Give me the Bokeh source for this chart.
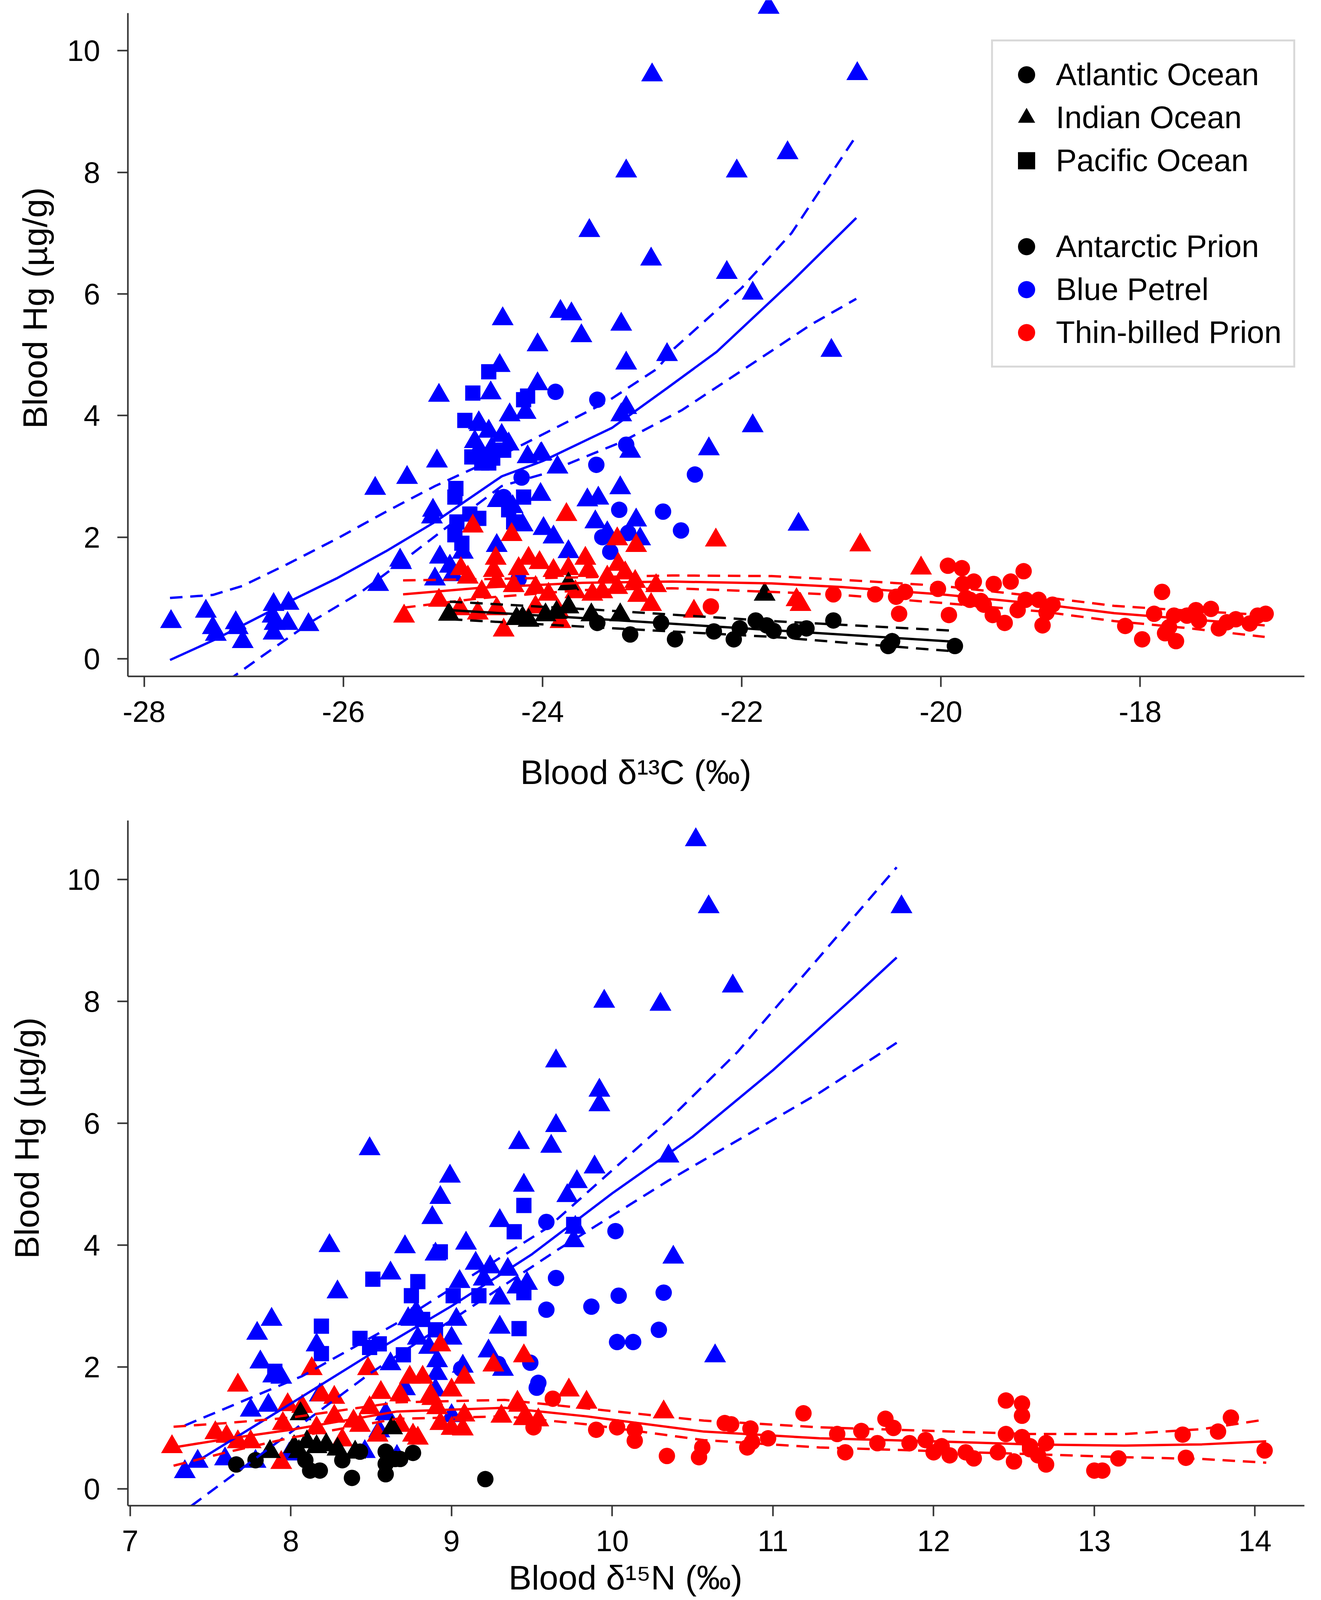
from bokeh.plotting import figure
from bokeh.models import Range1d, FixedTicker, Legend, LegendItem, Title
from bokeh.layouts import column
from bokeh.embed import file_html
from bokeh.resources import INLINE

# ------------------------------------------------------------------ ticks
c13_ticks = [-28, -26, -24, -22, -20, -18]
n15_ticks = [7, 8, 9, 10, 11, 12, 13, 14]
hg_ticks = [0, 2, 4, 6, 8, 10]

# ------------------------------------------------------------------ panel A : blood d13C vs Hg
# Blue Petrel, Indian Ocean (triangles)
c13_bp_ind_x = [-27.73, -27.38, -27.31, -27.28, -27.08, -27.06, -27.01, -26.70, -26.71, -26.69,
                -26.70, -26.56, -26.55, -26.35, -25.65, -25.68, -25.36, -25.42, -25.04, -25.06,
                -25.10, -25.11, -25.03, -25.08, -24.63, -24.68, -24.52, -24.43, -24.40, -23.82,
                -23.71, -23.61, -23.53, -23.21, -24.05, -23.16, -22.75, -21.10, -24.05, -24.17,
                -24.33, -23.21, -23.16, -21.89, -22.33, -23.12, -23.85, -24.01, -23.22, -23.44,
                -23.55, -21.43, -21.73, -22.90, -20.84, -21.54, -23.16, -22.05, -22.91, -22.15,
                -21.89, -24.54, -24.41, -24.64, -24.51, -24.34, -24.02, -24.15, -24.64, -24.02,
                -23.06, -23.47, -23.35, -23.99, -23.89, -24.46, -23.74, -23.02, -25.43, -24.93,
                -24.45, -24.30, -24.20, -24.80, -24.90]
c13_bp_ind_y = [0.61, 0.78, 0.51, 0.40, 0.59, 0.51, 0.28, 0.89, 0.70, 0.58,
                0.42, 0.58, 0.91, 0.56, 1.22, 2.80, 2.98, 1.58, 4.33, 3.25,
                2.44, 2.33, 1.67, 1.31, 3.85, 3.57, 4.37, 4.82, 5.59, 5.71,
                5.67, 5.31, 7.04, 5.50, 5.16, 4.86, 5.00, 5.07, 4.52, 4.05,
                4.01, 4.01, 4.13, 3.83, 3.45, 3.41, 3.15, 3.37, 2.81, 2.64,
                2.61, 2.21, 10.71, 9.60, 9.62, 8.32, 8.02, 8.02, 6.57, 6.35,
                6.01, 3.74, 3.67, 3.43, 3.46, 3.53, 3.36, 3.32, 3.88, 2.70,
                2.28, 2.25, 2.07, 2.14, 2.00, 1.86, 1.76, 1.97, 1.62, 1.52,
                2.60, 2.50, 2.20, 1.75, 1.38]
# Blue Petrel, Pacific Ocean (squares)
c13_bp_pac_x = [-24.54, -24.70, -24.78, -24.19, -24.15, -24.71, -24.61, -24.54, -24.39, -24.87,
                -24.88, -24.19, -24.34, -24.86, -24.88, -24.81, -24.64, -24.29, -24.73, -24.60, -24.50]
c13_bp_pac_y = [4.72, 4.37, 3.92, 4.26, 4.32, 3.32, 3.22, 3.22, 3.43, 2.80,
                2.66, 2.66, 2.45, 2.25, 2.04, 1.90, 2.31, 2.25, 2.38, 3.35, 3.30]
# Blue Petrel, Atlantic Ocean (circles)
c13_bp_atl_x = [-23.87, -23.45, -23.16, -23.46, -24.21, -22.47, -24.39, -23.23, -22.79, -22.61,
                -23.40, -23.14, -23.32, -24.24]
c13_bp_atl_y = [4.39, 4.26, 3.52, 3.19, 2.98, 3.03, 2.66, 2.45, 2.42, 2.11,
                2.00, 2.07, 1.76, 1.31]
# Thin-billed Prion, Indian Ocean (triangles)
c13_tbp_ind_x = [-23.76, -24.70, -24.31, -22.26, -23.25, -23.06, -24.47, -24.14, -24.03, -23.57,
                 -23.24, -23.17, -24.82, -24.75, -24.49, -24.24, -23.89, -23.74, -23.54, -23.35,
                 -23.07, -22.86, -24.61, -24.46, -24.29, -24.07, -23.94, -23.67, -23.50, -23.40,
                 -23.25, -23.04, -22.91, -25.04, -24.83, -24.46, -24.07, -23.84, -23.82, -24.39,
                 -22.48, -25.39, -24.65, -20.81, -20.20, -21.45, -21.41]
c13_tbp_ind_y = [2.37, 2.18, 2.04, 1.95, 1.97, 1.86, 1.65, 1.65, 1.58, 1.65,
                 1.55, 1.41, 1.48, 1.34, 1.45, 1.48, 1.45, 1.48, 1.45, 1.34,
                 1.27, 1.20, 1.10, 1.27, 1.20, 1.17, 1.06, 1.10, 1.06, 1.10,
                 1.17, 1.04, 0.89, 0.96, 0.82, 0.82, 0.85, 0.78, 0.61, 0.47,
                 0.78, 0.70, 0.75, 1.87, 1.49, 0.97, 0.89]
# Thin-billed Prion, Atlantic Ocean (circles)
c13_tbp_atl_x = [-22.31, -21.08, -20.66, -20.45, -20.36, -20.42, -20.03, -19.93, -19.79, -19.78,
                 -19.67, -19.47, -19.30, -19.17, -19.92, -19.71, -19.57, -19.48, -19.36, -19.23,
                 -19.15, -19.02, -18.88, -18.94, -18.98, -18.15, -17.98, -17.86, -17.78, -17.75,
                 -17.64, -17.66, -17.71, -17.53, -17.44, -17.41, -17.29, -17.21, -17.13, -17.04,
                 -16.90, -16.82, -16.74, -19.60, -19.75]
c13_tbp_atl_y = [0.86, 1.06, 1.06, 1.02, 1.10, 0.74, 1.15, 1.53, 1.49, 1.23,
                 1.27, 1.23, 1.27, 1.44, 0.72, 0.97, 0.89, 0.72, 0.59, 0.80,
                 0.97, 0.97, 0.89, 0.76, 0.55, 0.54, 0.32, 0.74, 1.10, 0.42,
                 0.29, 0.71, 0.52, 0.71, 0.80, 0.63, 0.82, 0.50, 0.60, 0.65,
                 0.58, 0.71, 0.74, 0.95, 1.00]
# Antarctic Prion, Indian Ocean (triangles)
c13_ap_ind_x = [-24.94, -24.20, -24.14, -23.97, -23.86, -23.74, -23.74, -23.51, -23.22, -21.77, -24.26]
c13_ap_ind_y = [0.73, 0.67, 0.63, 0.72, 0.76, 1.23, 0.85, 0.72, 0.72, 1.06, 0.66]
# Antarctic Prion, Atlantic Ocean (circles)
c13_ap_atl_x = [-23.45, -23.12, -22.81, -22.67, -22.28, -22.08, -22.02, -21.86, -21.75, -21.68,
                -21.47, -21.35, -21.08, -20.53, -20.49, -19.86]
c13_ap_atl_y = [0.59, 0.40, 0.59, 0.32, 0.45, 0.32, 0.50, 0.63, 0.55, 0.46,
                0.45, 0.50, 0.63, 0.21, 0.29, 0.21]

# fitted curves (panel A)
c13_bp_fit_x = [-27.74, -27.31, -26.57, -26.07, -25.57, -25.08, -24.41, -24.0, -23.3, -22.75, -22.25, -21.5, -20.85]
c13_bp_fit_y = [-0.02, 0.30, 0.92, 1.32, 1.77, 2.25, 3.0, 3.25, 3.8, 4.45, 5.05, 6.2, 7.25]
c13_bp_hi_x = [-27.74, -27.31, -27.01, -26.57, -26.07, -25.57, -25.08, -24.6, -24.19, -23.35, -22.85, -22.68, -22.0, -21.5, -20.85]
c13_bp_hi_y = [1.0, 1.05, 1.2, 1.55, 1.97, 2.42, 2.84, 3.2, 3.53, 4.23, 4.77, 5.1, 6.1, 7.0, 8.6]
c13_bp_lo_x = [-27.16, -26.81, -26.32, -25.82, -25.33, -24.98, -24.41, -23.99, -23.2, -22.6, -21.86, -21.3, -20.85]
c13_bp_lo_y = [-0.36, 0.05, 0.61, 1.1, 1.7, 2.14, 2.84, 3.04, 3.57, 4.09, 4.89, 5.5, 5.92]

c13_tbp_fit_x = [-25.4, -24.6, -23.6, -22.7, -21.7, -21.0, -20.0, -19.0, -18.26, -17.5, -16.75]
c13_tbp_fit_y = [1.06, 1.17, 1.25, 1.27, 1.24, 1.18, 1.06, 0.90, 0.75, 0.65, 0.55]
c13_tbp_hi_y = [1.29, 1.31, 1.34, 1.37, 1.36, 1.30, 1.20, 1.02, 0.87, 0.79, 0.72]
c13_tbp_lo_y = [0.84, 1.00, 1.13, 1.16, 1.10, 1.05, 0.92, 0.78, 0.62, 0.50, 0.36]

c13_ap_fit_x = [-24.93, -23.5, -21.69, -19.85]
c13_ap_fit_y = [0.80, 0.66, 0.47, 0.28]
c13_ap_hi_y = [0.94, 0.81, 0.62, 0.46]
c13_ap_lo_y = [0.65, 0.52, 0.36, 0.12]

# ------------------------------------------------------------------ panel B : blood d15N vs Hg
n15_bp_ind_x = [8.49, 9.42, 8.99, 8.93, 9.45, 8.88, 9.30, 8.24, 8.71, 9.09,
                8.62, 8.29, 8.90, 9.15, 9.24, 9.35, 9.05, 9.47, 9.30, 7.88,
                7.79, 8.16, 8.78, 8.75, 9.03, 9.30, 8.79, 8.86, 9.00, 7.81,
                7.89, 7.94, 8.91, 8.91, 8.62, 9.23, 9.07, 8.18, 7.75, 7.86,
                7.34, 7.42, 7.59, 7.78, 7.99, 8.46, 8.66, 8.59, 8.71, 9.65,
                9.92, 9.92, 9.65, 9.62, 9.89, 9.78, 9.72, 10.35, 9.77, 9.76,
                10.38, 9.20, 9.41, 8.73, 10.64, 9.32, 8.90, 10.52, 10.60, 11.80,
                10.75, 9.95, 10.30, 8.55, 9.00]
n15_bp_ind_y = [5.58, 5.68, 5.13, 4.78, 4.98, 4.45, 4.40, 3.99, 3.97, 4.03,
                3.54, 3.23, 3.85, 3.70, 3.64, 3.60, 3.40, 3.37, 3.13, 2.78,
                2.55, 2.36, 2.90, 2.78, 2.78, 2.65, 2.47, 2.32, 2.47, 2.08,
                1.85, 1.83, 2.10, 1.89, 2.05, 2.26, 2.01, 1.54, 1.29, 1.37,
                0.28, 0.45, 0.49, 0.45, 0.57, 0.61, 0.53, 1.23, 1.64, 7.02,
                6.54, 6.30, 5.96, 5.62, 5.28, 5.04, 4.81, 5.46, 4.29, 4.07,
                3.80, 3.44, 3.31, 2.79, 2.18, 1.96, 1.62, 10.65, 9.55, 9.55,
                8.25, 8.00, 7.95, 0.95, 1.20]
n15_bp_pac_x = [9.45, 9.39, 8.93, 8.51, 8.79, 8.75, 9.01, 9.17, 8.19, 9.42,
                8.43, 8.49, 8.55, 8.19, 7.90, 8.70, 8.90, 8.82, 9.76, 9.45]
n15_bp_pac_y = [4.65, 4.22, 3.89, 3.44, 3.40, 3.17, 3.17, 3.17, 2.67, 2.63,
                2.47, 2.32, 2.38, 2.22, 1.93, 2.20, 2.61, 2.78, 4.34, 3.22]
n15_bp_atl_x = [9.59, 9.59, 9.49, 9.54, 9.06, 9.29, 10.02, 9.65, 9.87, 10.04,
                10.32, 10.29, 10.03, 10.13, 9.53]
n15_bp_atl_y = [4.38, 2.94, 2.07, 1.74, 1.97, 2.05, 4.23, 3.46, 2.99, 3.17,
                3.22, 2.61, 2.41, 2.41, 1.66]
n15_tbp_ind_x = [7.67, 8.13, 8.93, 9.45, 9.26, 8.48, 8.74, 8.82, 9.08, 8.56,
                 8.68, 8.87, 9.00, 8.19, 8.27, 7.98, 8.07, 8.49, 9.41, 9.31,
                 9.08, 8.93, 9.00, 9.07, 9.46, 9.54, 7.95, 8.27, 8.39, 8.43,
                 8.68, 8.16, 7.53, 7.60, 7.26, 7.67, 7.75, 8.54, 8.76, 7.94,
                 8.32, 9.73, 9.84, 10.32, 9.42, 8.88, 8.91, 9.45, 8.79]
n15_tbp_ind_y = [1.70, 1.97, 2.36, 2.18, 2.03, 1.97, 1.83, 1.83, 1.83, 1.58,
                 1.54, 1.54, 1.62, 1.54, 1.50, 1.38, 1.35, 1.33, 1.42, 1.19,
                 1.21, 1.07, 0.99, 0.98, 1.19, 1.13, 1.07, 1.19, 1.11, 1.04,
                 1.04, 1.00, 0.92, 0.86, 0.69, 0.77, 0.77, 0.88, 0.88, 0.43,
                 0.80, 1.62, 1.42, 1.26, 1.37, 1.48, 1.33, 1.15, 0.83]
n15_tbp_atl_x = [9.63, 9.51, 9.90, 10.03, 10.14, 10.14, 10.34, 10.54, 10.56, 10.70,
                 10.74, 10.86, 10.87, 10.84, 10.97, 11.19, 11.40, 11.45, 11.55, 11.65,
                 11.70, 11.75, 11.85, 11.95, 12.05, 12.10, 12.20, 12.25, 12.40, 12.45,
                 12.55, 12.55, 12.55, 12.45, 12.60, 12.65, 12.70, 12.50, 12.70, 13.00,
                 13.05, 13.15, 13.55, 13.57, 13.77, 13.85, 14.06, 12.00, 12.60]
n15_tbp_atl_y = [1.48, 1.01, 0.97, 1.01, 0.97, 0.79, 0.54, 0.52, 0.68, 1.08,
                 1.06, 0.99, 0.77, 0.68, 0.83, 1.24, 0.90, 0.60, 0.95, 0.75,
                 1.15, 1.00, 0.75, 0.80, 0.70, 0.55, 0.60, 0.50, 0.60, 1.45,
                 1.40, 1.20, 0.85, 0.90, 0.70, 0.55, 0.75, 0.45, 0.40, 0.30,
                 0.30, 0.50, 0.89, 0.51, 0.94, 1.17, 0.63, 0.60, 0.65]
n15_ap_ind_x = [8.06, 8.63, 7.87, 8.02, 8.10, 8.16, 8.29, 8.05, 8.22, 8.40]
n15_ap_ind_y = [1.23, 1.00, 0.61, 0.69, 0.77, 0.69, 0.65, 0.61, 0.72, 0.60]
n15_ap_atl_x = [7.66, 7.78, 8.09, 8.12, 8.18, 8.32, 8.43, 8.38, 8.59, 8.59,
                8.65, 8.68, 8.59, 8.76, 9.21]
n15_ap_atl_y = [0.40, 0.47, 0.47, 0.30, 0.30, 0.47, 0.61, 0.18, 0.61, 0.24,
                0.49, 0.49, 0.41, 0.59, 0.16]

# fitted curves (panel B)
n15_bp_fit_x = [7.36, 8.0, 8.5, 9.0, 9.5, 10.0, 10.5, 11.0, 11.5, 11.77]
n15_bp_fit_y = [0.36, 1.40, 2.22, 3.0, 3.85, 4.85, 5.78, 6.87, 8.06, 8.72]
n15_bp_hi_x = [7.34, 8.07, 8.66, 9.6, 10.35, 10.78, 11.77]
n15_bp_hi_y = [1.04, 1.85, 2.72, 4.29, 6.05, 7.17, 10.2]
n15_bp_lo_x = [7.38, 8.0, 8.49, 9.0, 9.67, 10.35, 11.29, 11.77]
n15_bp_lo_y = [-0.28, 0.93, 1.89, 2.77, 3.94, 5.06, 6.5, 7.32]

n15_tbp_fit_x = [7.27, 7.6, 8.0, 8.66, 9.33, 9.84, 10.57, 11.29, 12.0, 12.6, 13.19, 13.67, 14.07]
n15_tbp_fit_y = [0.68, 0.82, 0.97, 1.27, 1.33, 1.19, 0.94, 0.83, 0.78, 0.73, 0.71, 0.73, 0.78]
n15_tbp_hi_y = [1.02, 1.08, 1.17, 1.42, 1.46, 1.32, 1.12, 1.01, 0.95, 0.90, 0.90, 0.98, 1.14]
n15_tbp_lo_y = [0.38, 0.60, 0.84, 1.15, 1.19, 1.06, 0.80, 0.68, 0.62, 0.57, 0.52, 0.49, 0.43]

# ------------------------------------------------------------------ styling
FONT = "Liberation Sans"
BLUE, RED, BLACK = "#0000FF", "#FF0000", "#000000"
AXIS = "#333333"
SIZES = {"triangle": 56, "circle": 42, "square": 39}
DASH = "32 20"
LW = 6
SPACER = "\u00a0"   # invisible axis label used only to reserve room before the title


def make_fig(width, height, xr, yr, borders, xticks, ybounds=None):
    left, right, top, bottom = borders
    p = figure(width=width, height=height,
               x_range=Range1d(*xr), y_range=Range1d(*yr),
               output_backend="svg", toolbar_location=None,
               min_border_left=left, min_border_right=right,
               min_border_top=top, min_border_bottom=bottom)
    p.grid.visible = False
    p.outline_line_color = None
    p.background_fill_color = "white"
    p.border_fill_color = "white"
    p.xaxis.ticker = FixedTicker(ticks=xticks)
    p.yaxis.ticker = FixedTicker(ticks=hg_ticks)
    p.xaxis.major_label_overrides = {t: str(t) for t in xticks}
    p.yaxis.major_label_overrides = {t: str(t) for t in hg_ticks}
    if ybounds is not None:
        p.yaxis.bounds = ybounds
    for ax in (p.xaxis, p.yaxis):
        ax.axis_line_color = AXIS
        ax.axis_line_width = 4
        ax.major_tick_line_color = AXIS
        ax.major_tick_line_width = 4
        ax.major_tick_out = 27
        ax.major_tick_in = 0
        ax.minor_tick_line_color = None
        ax.major_label_text_font = FONT
        ax.major_label_text_font_size = "76px"
        ax.major_label_text_color = "black"
    p.xaxis.major_label_standoff = 36
    p.yaxis.major_label_standoff = 44
    return p


def spacer(axis, room):
    axis.axis_label = SPACER
    axis.axis_label_text_font_size = "2px"
    axis.axis_label_standoff = room


def pts(p, x, y, marker, color):
    return p.scatter(x, y, marker=marker, size=SIZES[marker],
                     fill_color=color, line_color=None)


def curve(p, x, y, color, dashed=False):
    if dashed:
        p.line(x, y, line_color=color, line_width=LW, line_dash=DASH)
    else:
        p.line(x, y, line_color=color, line_width=LW)


def title(p, text, side, offset, standoff):
    p.add_layout(Title(text=text, align="left", offset=offset, standoff=standoff,
                       text_font=FONT, text_font_size="88px", text_font_style="normal",
                       text_color="black"), side)


# ------------------------------------------------------------------ panel A
pA = make_fig(3367, 2095, (-28.163, -16.351), (-0.289, 10.83),
              (327, 2, 0, 364), c13_ticks, ybounds=(-0.289, 10.62))
spacer(pA.xaxis[0], 19)

a_bp_ind = pts(pA, c13_bp_ind_x, c13_bp_ind_y, "triangle", BLUE)
a_bp_pac = pts(pA, c13_bp_pac_x, c13_bp_pac_y, "square", BLUE)
a_bp_atl = pts(pA, c13_bp_atl_x, c13_bp_atl_y, "circle", BLUE)
a_tbp_ind = pts(pA, c13_tbp_ind_x, c13_tbp_ind_y, "triangle", RED)
a_tbp_atl = pts(pA, c13_tbp_atl_x, c13_tbp_atl_y, "circle", RED)
a_ap_ind = pts(pA, c13_ap_ind_x, c13_ap_ind_y, "triangle", BLACK)
a_ap_atl = pts(pA, c13_ap_atl_x, c13_ap_atl_y, "circle", BLACK)

curve(pA, c13_bp_fit_x, c13_bp_fit_y, BLUE)
curve(pA, c13_bp_hi_x, c13_bp_hi_y, BLUE, True)
curve(pA, c13_bp_lo_x, c13_bp_lo_y, BLUE, True)
curve(pA, c13_tbp_fit_x, c13_tbp_fit_y, RED)
curve(pA, c13_tbp_fit_x, c13_tbp_hi_y, RED, True)
curve(pA, c13_tbp_fit_x, c13_tbp_lo_y, RED, True)
curve(pA, c13_ap_fit_x, c13_ap_fit_y, BLACK)
curve(pA, c13_ap_fit_x, c13_ap_hi_y, BLACK, True)
curve(pA, c13_ap_fit_x, c13_ap_lo_y, BLACK, True)

title(pA, "Blood \u03b4\u00b9\u00b3C (\u2030)", "below", 1005, 100)
title(pA, "Blood Hg (\u00b5g/g)", "left", 634, 60)

# legend: key glyphs (a black square key and an empty spacer row have no data)
nan = float("nan")
key_square = pA.scatter([nan], [nan], marker="square", size=40,
                        fill_color=BLACK, line_color=None)
key_blank = pA.scatter([nan], [nan], marker="circle", size=40,
                       fill_color="white", fill_alpha=0.0, line_color=None)

items = [
    LegendItem(label="Atlantic Ocean", renderers=[a_ap_atl]),
    LegendItem(label="Indian Ocean", renderers=[a_ap_ind]),
    LegendItem(label="Pacific Ocean", renderers=[key_square]),
    LegendItem(label=" ", renderers=[key_blank]),
    LegendItem(label="Antarctic Prion", renderers=[a_ap_atl]),
    LegendItem(label="Blue Petrel", renderers=[a_bp_atl]),
    LegendItem(label="Thin-billed Prion", renderers=[a_tbp_atl]),
]
leg = Legend(items=items, location=(2211, 790), margin=0, padding=30,
             glyph_width=111, glyph_height=110, label_height=110, spacing=0,
             label_standoff=20, label_text_font=FONT, label_text_font_size="80px",
             label_text_color="black", border_line_color="#b4b4b4",
             border_line_width=5, background_fill_color="white", background_fill_alpha=1.0)
pA.add_layout(leg)

# ------------------------------------------------------------------ panel B
pB = make_fig(3367, 2059, (6.9856, 14.3075), (-0.2756, 10.968),
              (297, 27, 5, 300), n15_ticks)
spacer(pB.xaxis[0], 8)
spacer(pB.yaxis[0], 46)

pts(pB, n15_bp_ind_x, n15_bp_ind_y, "triangle", BLUE)
pts(pB, n15_bp_pac_x, n15_bp_pac_y, "square", BLUE)
pts(pB, n15_bp_atl_x, n15_bp_atl_y, "circle", BLUE)
pts(pB, n15_tbp_ind_x, n15_tbp_ind_y, "triangle", RED)
pts(pB, n15_tbp_atl_x, n15_tbp_atl_y, "circle", RED)
pts(pB, n15_ap_ind_x, n15_ap_ind_y, "triangle", BLACK)
pts(pB, n15_ap_atl_x, n15_ap_atl_y, "circle", BLACK)

curve(pB, n15_bp_fit_x, n15_bp_fit_y, BLUE)
curve(pB, n15_bp_hi_x, n15_bp_hi_y, BLUE, True)
curve(pB, n15_bp_lo_x, n15_bp_lo_y, BLUE, True)
curve(pB, n15_tbp_fit_x, n15_tbp_fit_y, RED)
curve(pB, n15_tbp_fit_x, n15_tbp_hi_y, RED, True)
curve(pB, n15_tbp_fit_x, n15_tbp_lo_y, RED, True)

title(pB, "Blood  \u03b4\u00b9\u2075N (\u2030)", "below", 975, 0)
title(pB, "Blood Hg (\u00b5g/g)", "left", 632, 0)

layout = column(pA, pB, spacing=0)
open("out.html", "w").write(file_html(layout, INLINE))
